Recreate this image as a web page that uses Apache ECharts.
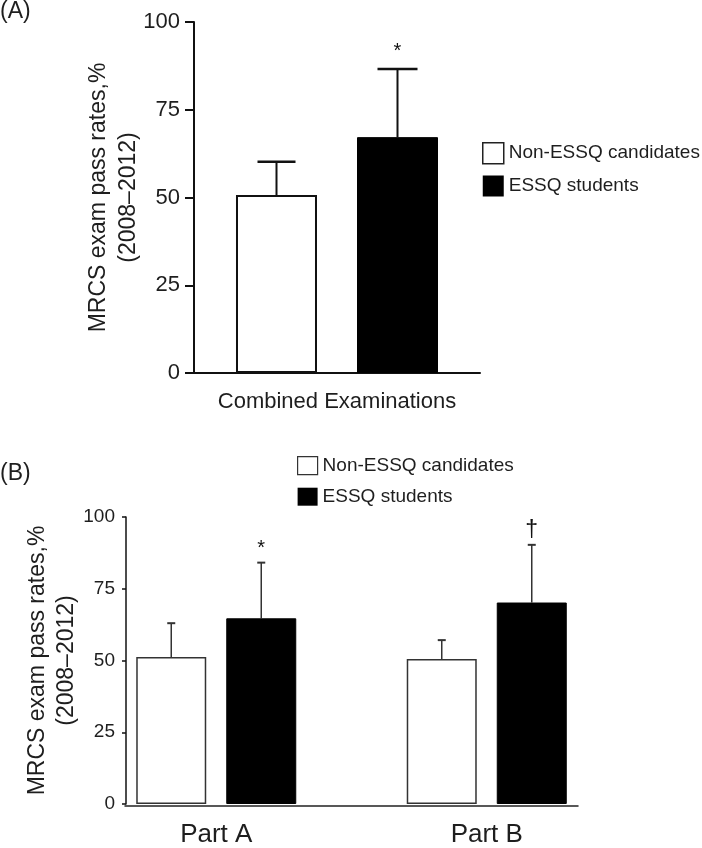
<!DOCTYPE html>
<html><head><meta charset="utf-8">
<script src="https://cdn.jsdelivr.net/npm/echarts@6/dist/echarts.min.js"></script>
<style>html,body{margin:0;padding:0;background:#fff}#c{width:702px;height:848px}</style>
</head><body><div id="c"></div>
<script>
// ---- data ----
const seriesNames = ['Non-ESSQ candidates', 'ESSQ students'];
const yTicks = [0, 25, 50, 75, 100];
const catsA = ['Combined Examinations'];
const nonA = [50.7];
const essqA = [67.2];
const nonAErrTop = [60.2];
const essqAErrTop = [86.6];
const sigNonA = [''];
const sigEssqA = ['*'];
const catsB = ['Part A', 'Part B'];
const nonB = [51.2, 50.5];
const essqB = [64.7, 70.2];
const nonBErrTop = [63.0, 57.1];
const essqBErrTop = [84.1, 90.3];
const sigNonB = ['', ''];
const sigEssqB = ['*', '\u2020'];
const yName = 'MRCS exam pass rates,%\n(2008\u20132012)';

const FONT = "'Liberation Sans', Arial, Helvetica, sans-serif";
const TXT = '#1e1e1e';

function errRenderer(sign, barW, gap, capW, lw, color, sigs, sigStyles) {
  return function (params, api) {
    const i = api.value(0);
    const top = api.coord([i, api.value(1)]);
    const base = api.coord([i, api.value(2)]);
    const x = top[0] + sign * (barW + gap) / 2;
    const children = [
      {type: 'line', shape: {x1: x, y1: base[1], x2: x, y2: top[1]}, style: {stroke: color, lineWidth: lw}},
      {type: 'line', shape: {x1: x - capW / 2, y1: top[1], x2: x + capW / 2, y2: top[1]}, style: {stroke: color, lineWidth: lw + 0.5}}
    ];
    const s = sigs[params.dataIndex];
    if (s) {
      const st = sigStyles[params.dataIndex];
      children.push({type: 'text', x: x, y: top[1] - st.lift,
        style: {text: s, fontSize: st.size, fontFamily: FONT, fill: '#111', align: 'center', verticalAlign: 'middle'}});
    }
    return {type: 'group', children: children};
  };
}
function errData(tops, vals) { return tops.map((t, i) => [i, t, vals[i]]); }

const yAxisCommon = function (fontSize, tickLen, margin, lw, nameGap, nameSize, lineH) {
  return {
    type: 'value', min: yTicks[0], max: yTicks[yTicks.length - 1], interval: yTicks[1] - yTicks[0],
    axisLine: {show: true, lineStyle: {color: '#111', width: lw}},
    axisTick: {show: true, length: tickLen, lineStyle: {color: '#111', width: lw}},
    axisLabel: {fontSize: fontSize, color: TXT, fontFamily: FONT, margin: margin},
    splitLine: {show: false},
    name: yName, nameLocation: 'middle', nameRotate: 90, nameGap: nameGap, nameMoveOverlap: false,
    nameTextStyle: {fontSize: nameSize, color: TXT, fontFamily: FONT, lineHeight: lineH, align: 'center'}
  };
};

const chart = echarts.init(document.getElementById('c'), null, {renderer: 'canvas'});
const option = {
  animation: false,
  backgroundColor: '#fff',
  textStyle: {fontFamily: FONT},
  grid: [
    {left: 194, right: 222, top: 22, bottom: 475, containLabel: false},
    {left: 81, right: 80, top: 517, bottom: 42, containLabel: false},
    {left: 125, right: 124, top: 517, bottom: 42, containLabel: false}
  ],
  xAxis: [
    {type: 'category', gridIndex: 0, data: catsA,
      axisLine: {show: true, lineStyle: {color: '#111', width: 2}}, axisTick: {show: false},
      axisLabel: {fontSize: 22, color: TXT, fontFamily: FONT, margin: 18}},
    {type: 'category', gridIndex: 1, data: catsB,
      axisLine: {show: false}, axisTick: {show: false},
      axisLabel: {fontSize: 26, color: TXT, fontFamily: FONT, margin: 18}},
    {type: 'category', gridIndex: 2, data: catsB,
      axisLine: {show: true, lineStyle: {color: '#222', width: 1.5}}, axisTick: {show: false},
      axisLabel: {show: false}}
  ],
  yAxis: [
    Object.assign(yAxisCommon(22, 9, 14, 2, 50, 23, 30), {gridIndex: 0}),
    Object.assign(yAxisCommon(19, 4, 11, 1.5, 45, 23, 29), {gridIndex: 1, offset: -45}),
    {type: 'value', gridIndex: 2, min: 0, max: 100, show: false}
  ],
  legend: [
    {orient: 'vertical', left: 482, top: 142, padding: 0, itemWidth: 21, itemHeight: 21, itemGap: 11, itemTextGap: 6,
      textStyle: {fontSize: 19, color: TXT, fontFamily: FONT}, selectedMode: false,
      data: [
        {name: seriesNames[0], icon: 'rect', itemStyle: {color: '#fff', borderColor: '#222', borderWidth: 1.5}},
        {name: seriesNames[1], icon: 'rect', itemStyle: {color: '#000', borderColor: '#000', borderWidth: 0}}
      ]},
    {orient: 'vertical', left: 297, top: 456, padding: 0, itemWidth: 20, itemHeight: 18, itemGap: 12, itemTextGap: 6,
      textStyle: {fontSize: 19, color: TXT, fontFamily: FONT}, selectedMode: false,
      data: [
        {name: seriesNames[0], icon: 'rect', itemStyle: {color: '#fff', borderColor: '#333', borderWidth: 1.2}},
        {name: seriesNames[1], icon: 'rect', itemStyle: {color: '#000', borderColor: '#000', borderWidth: 0}}
      ]}
  ],
  graphic: [
    {type: 'text', left: 0, top: 0, style: {text: '(A)', fontSize: 23, fill: TXT, fontFamily: FONT}},
    {type: 'text', left: 0, top: 462, style: {text: '(B)', fontSize: 23, fill: TXT, fontFamily: FONT}}
  ],
  series: [
    {type: 'bar', name: seriesNames[0], xAxisIndex: 0, yAxisIndex: 0, data: nonA, barWidth: 81, barGap: '49.4%',
      itemStyle: {color: '#fff', borderColor: '#111', borderWidth: 2}},
    {type: 'bar', name: seriesNames[1], xAxisIndex: 0, yAxisIndex: 0, data: essqA, barWidth: 81, barGap: '49.4%',
      itemStyle: {color: '#000', borderColor: '#000', borderWidth: 1}},
    {type: 'custom', xAxisIndex: 0, yAxisIndex: 0, z: 1, encode: {x: 0, y: 1},
      renderItem: errRenderer(-1, 81, 40, 38, 2, '#111', sigNonA, [{size: 20, lift: 20}]), data: errData(nonAErrTop, nonA)},
    {type: 'custom', xAxisIndex: 0, yAxisIndex: 0, z: 1, encode: {x: 0, y: 1},
      renderItem: errRenderer(1, 81, 40, 40, 2, '#111', sigEssqA, [{size: 20, lift: 18}]), data: errData(essqAErrTop, essqA)},

    {type: 'bar', name: seriesNames[0], xAxisIndex: 1, yAxisIndex: 1, data: nonB, barWidth: 70, barGap: '28.6%',
      itemStyle: {color: '#fff', borderColor: '#333', borderWidth: 1.5}},
    {type: 'bar', name: seriesNames[1], xAxisIndex: 1, yAxisIndex: 1, data: essqB, barWidth: 70, barGap: '28.6%',
      itemStyle: {color: '#000', borderColor: '#000', borderWidth: 1}},
    {type: 'custom', xAxisIndex: 1, yAxisIndex: 1, z: 1, encode: {x: 0, y: 1},
      renderItem: errRenderer(-1, 70, 20, 8, 1.5, '#333', sigNonB, [{size: 20, lift: 16}, {size: 20, lift: 16}]), data: errData(nonBErrTop, nonB)},
    {type: 'custom', xAxisIndex: 1, yAxisIndex: 1, z: 1, encode: {x: 0, y: 1},
      renderItem: errRenderer(1, 70, 20, 8, 1.5, '#333', sigEssqB, [{size: 20, lift: 14}, {size: 23, lift: 14}]), data: errData(essqBErrTop, essqB)}
  ]
};
chart.setOption(option);
</script>
</body></html>
